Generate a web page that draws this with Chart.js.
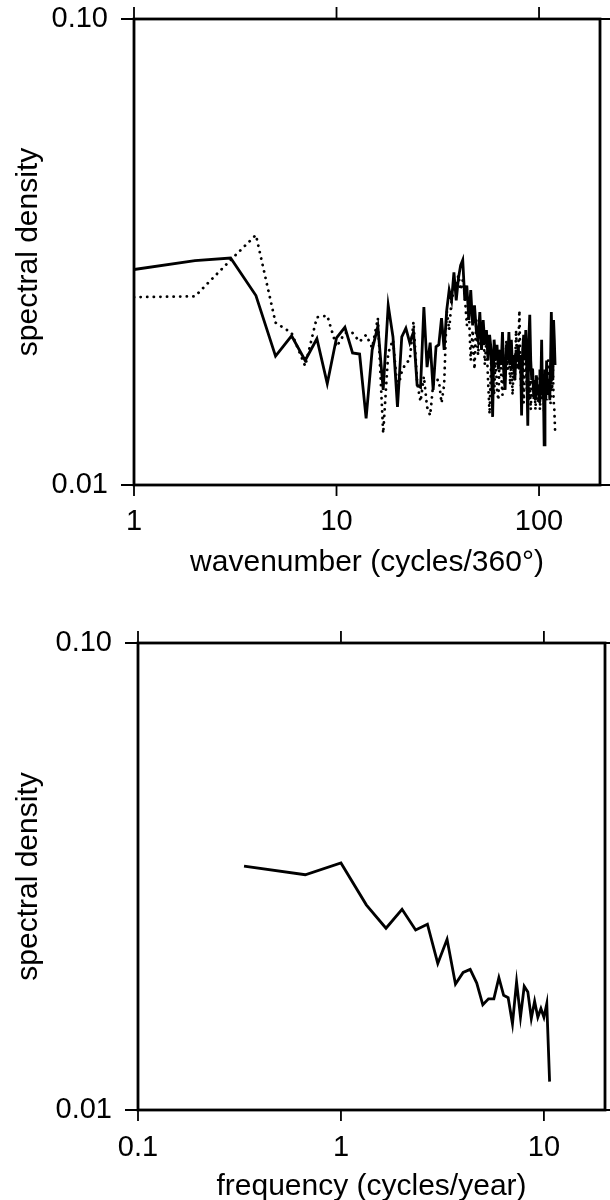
<!DOCTYPE html>
<html>
<head>
<meta charset="utf-8">
<script src="https://cdn.jsdelivr.net/npm/chart.js@4.4.0/dist/chart.umd.min.js"></script>
<style>
  html, body { margin: 0; padding: 0; background: #fff; overflow: hidden; }
  #wrap { position: relative; width: 610px; height: 1200px; overflow: hidden; }
  canvas { position: absolute; left: 0; }
  #topChart { top: 0; }
  #bottomChart { top: 600px; }
</style>
</head>
<body>
<div id="wrap">
  <canvas id="topChart" width="610" height="600"></canvas>
  <canvas id="bottomChart" width="610" height="620"></canvas>
</div>
<script>
// top panel: spectra against wavenumber
const wavenumbers = [
  1, 2, 3, 4, 5, 6, 7, 8, 9, 10, 11, 12, 13, 14, 15, 16, 17, 18, 19, 20,
  21, 22, 23, 24, 25, 26, 27, 28, 29, 30, 31, 32, 33, 34, 35, 36, 37, 38, 39, 40,
  41, 42, 43, 44, 45, 46, 47, 48, 49, 50, 51, 52, 53, 54, 55, 56, 57, 58, 59, 60,
  61, 62, 63, 64, 65, 66, 67, 68, 69, 70, 71, 72, 73, 74, 75, 76, 77, 78, 79, 80,
  81, 82, 83, 84, 85, 86, 87, 88, 89, 90, 91, 92, 93, 94, 95, 96, 97, 98, 99, 100,
  101, 102, 103, 104, 105, 106, 107, 108, 109, 110, 111, 112, 113, 114, 115, 116, 117, 118, 119, 120
];
const solidDensity = [
  0.0290, 0.0303, 0.0307, 0.0255, 0.0189, 0.0209, 0.0185, 0.0206, 0.0165, 0.0207,
  0.0218, 0.0192, 0.0191, 0.0139, 0.0195, 0.0219, 0.0160, 0.0243, 0.0208, 0.0147,
  0.0208, 0.0217, 0.0202, 0.0213, 0.0164, 0.0162, 0.0241, 0.0179, 0.0202, 0.0160,
  0.0198, 0.0200, 0.0228, 0.0195, 0.0237, 0.0262, 0.0249, 0.0286, 0.0249, 0.0278,
  0.0296, 0.0304, 0.0249, 0.0268, 0.0226, 0.0262, 0.0220, 0.0243, 0.0215, 0.0205,
  0.0235, 0.0195, 0.0226, 0.0200, 0.0215, 0.0185, 0.0210, 0.0195, 0.0140, 0.0205,
  0.0185, 0.0200, 0.0177, 0.0195, 0.0181, 0.0213, 0.0172, 0.0160, 0.0200, 0.0185,
  0.0213, 0.0181, 0.0205, 0.0177, 0.0190, 0.0168, 0.0195, 0.0185, 0.0200, 0.0177,
  0.0190, 0.0141, 0.0195, 0.0210, 0.0185, 0.0215, 0.0177, 0.0134, 0.0205, 0.0232,
  0.0185, 0.0168, 0.0177, 0.0156, 0.0168, 0.0152, 0.0172, 0.0156, 0.0164, 0.0152,
  0.0177, 0.0160, 0.0205, 0.0156, 0.0168, 0.0122, 0.0177, 0.0152, 0.0185, 0.0164,
  0.0156, 0.0168, 0.0152, 0.0185, 0.0235, 0.0195, 0.0168, 0.0226, 0.0205, 0.0181
];
const dottedDensity = [
  0.0253, 0.0254, 0.0304, 0.0344, 0.0223, 0.0212, 0.0180, 0.0229, 0.0231, 0.0198,
  0.0212, 0.0212, 0.0203, 0.0210, 0.0197, 0.0228, 0.0129, 0.0192, 0.0205, 0.0160,
  0.0175, 0.0183, 0.0185, 0.0224, 0.0166, 0.0151, 0.0171, 0.0147, 0.0141, 0.0164,
  0.0168, 0.0168, 0.0150, 0.0164, 0.0237, 0.0215, 0.0249, 0.0262, 0.0268, 0.0282,
  0.0262, 0.0275, 0.0255, 0.0220, 0.0237, 0.0185, 0.0215, 0.0177, 0.0226, 0.0190,
  0.0215, 0.0200, 0.0220, 0.0181, 0.0205, 0.0168, 0.0142, 0.0185, 0.0168, 0.0156,
  0.0190, 0.0160, 0.0152, 0.0195, 0.0172, 0.0156, 0.0185, 0.0168, 0.0205, 0.0177,
  0.0200, 0.0164, 0.0190, 0.0156, 0.0181, 0.0168, 0.0215, 0.0177, 0.0195, 0.0237,
  0.0172, 0.0156, 0.0185, 0.0150, 0.0177, 0.0195, 0.0160, 0.0172, 0.0152, 0.0168,
  0.0145, 0.0164, 0.0177, 0.0152, 0.0168, 0.0145, 0.0160, 0.0172, 0.0150, 0.0164,
  0.0145, 0.0160, 0.0181, 0.0152, 0.0168, 0.0142, 0.0160, 0.0177, 0.0152, 0.0164,
  0.0185, 0.0156, 0.0168, 0.0150, 0.0172, 0.0160, 0.0181, 0.0152, 0.0145, 0.0131
];

// bottom panel: spectrum against frequency
const frequencies = [
  0.333, 0.667, 1.000, 1.333, 1.667, 2.000, 2.333, 2.667, 3.000, 3.333, 3.667,
  4.000, 4.333, 4.667, 5.000, 5.333, 5.667, 6.000, 6.333, 6.667, 7.000, 7.333,
  7.667, 8.000, 8.333, 8.667, 9.000, 9.333, 9.667, 10.000, 10.333, 10.667
];
const frequencyDensity = [
  0.0333, 0.0319, 0.0338, 0.0275, 0.0245, 0.0269, 0.0243, 0.0250, 0.0206, 0.0232, 0.0186,
  0.0197, 0.0200, 0.0187, 0.0168, 0.0173, 0.0173, 0.0192, 0.0176, 0.0174, 0.0153, 0.0188,
  0.0158, 0.0184, 0.0179, 0.0157, 0.0171, 0.0158, 0.0165, 0.0158, 0.0169, 0.0115
];

const wavenumberTicks = [1, 10, 100];
const wavenumberTickLabels = ['1', '10', '100'];
const frequencyTicks = [0.1, 1, 10];
const frequencyTickLabels = ['0.1', '1', '10'];
const densityTicks = [0.01, 0.1];
const densityTickLabels = ['0.01', '0.10'];

const FONT = '"Liberation Sans", Arial, Helvetica, sans-serif';
const INK = '#000';

// box round the plot, ticks pointing outward on all four sides
const framePlugin = {
  id: 'frame',
  afterDraw(chart) {
    const { ctx, chartArea: a, scales: { x, y } } = chart;
    ctx.save();
    ctx.strokeStyle = INK;
    ctx.lineWidth = 2.8;
    ctx.strokeRect(a.left, a.top, a.right - a.left, a.bottom - a.top);
    ctx.lineWidth = 1.8;
    ctx.beginPath();
    x.ticks.forEach(t => {
      const px = x.getPixelForValue(t.value);
      ctx.moveTo(px, a.top); ctx.lineTo(px, a.top - 12);
      ctx.moveTo(px, a.bottom); ctx.lineTo(px, a.bottom + 11);
    });
    y.ticks.forEach(t => {
      const py = y.getPixelForValue(t.value);
      ctx.moveTo(a.left, py); ctx.lineTo(a.left - 13, py);
      ctx.moveTo(a.right, py); ctx.lineTo(a.right + 12, py);
    });
    ctx.stroke();
    ctx.restore();
  }
};

function toPoints(xs, ys) {
  return xs.map((v, i) => ({ x: v, y: ys[i] }));
}

function spectrumChart(id, datasets, o) {
  return new Chart(document.getElementById(id), {
    type: 'line',
    data: { datasets },
    options: {
      responsive: false,
      animation: false,
      events: [],
      layout: { padding: { top: o.padTop, right: o.padRight, left: 0, bottom: 0 } },
      plugins: { legend: { display: false }, tooltip: { enabled: false } },
      elements: { point: { radius: 0 }, line: { tension: 0, borderJoinStyle: 'miter' } },
      scales: {
        x: {
          type: 'logarithmic',
          min: o.xMin,
          max: o.xMax,
          afterBuildTicks: s => { s.ticks = o.xTicks.map(v => ({ value: v })); },
          afterFit: s => {
            s.height = o.xHeight;
            s.paddingLeft = 0;
            s.paddingRight = 0;
          },
          grid: { display: false, drawTicks: false },
          border: { display: false },
          ticks: {
            color: INK,
            font: { family: FONT, size: 29 },
            padding: o.xTickPad,
            maxRotation: 0,
            autoSkip: false,
            callback: (v, i) => o.xLabels[i]
          },
          title: {
            display: true,
            text: o.xTitle,
            color: INK,
            font: { family: FONT, size: 30 },
            padding: { top: 0, bottom: o.xTitlePad }
          }
        },
        y: {
          type: 'logarithmic',
          min: 0.01,
          max: 0.1,
          afterBuildTicks: s => { s.ticks = densityTicks.map(v => ({ value: v })); },
          afterFit: s => {
            s.width = o.yWidth;
            s.paddingTop = 0;
            s.paddingBottom = 0;
          },
          grid: { display: false, drawTicks: false },
          border: { display: false },
          ticks: {
            color: INK,
            font: { family: FONT, size: 29 },
            padding: 26,
            callback: (v, i) => densityTickLabels[i]
          },
          title: {
            display: true,
            text: 'spectral density',
            color: INK,
            font: { family: FONT, size: 30 },
            padding: { top: 11, bottom: 0 }
          }
        }
      }
    },
    plugins: [framePlugin]
  });
}

spectrumChart('topChart', [
  {
    data: toPoints(wavenumbers, solidDensity),
    borderColor: INK,
    borderWidth: 2.8
  },
  {
    data: toPoints(wavenumbers, dottedDensity),
    borderColor: INK,
    borderWidth: 2.8,
    borderDash: [0.1, 6.5],
    borderCapStyle: 'round'
  }
], {
  padTop: 19, padRight: 10,
  xMin: 1, xMax: 200,
  xTicks: wavenumberTicks, xLabels: wavenumberTickLabels,
  xHeight: 115, xTickPad: 20,
  xTitle: 'wavenumber (cycles/360°)', xTitlePad: 19,
  yWidth: 134
});

spectrumChart('bottomChart', [
  {
    data: toPoints(frequencies, frequencyDensity),
    borderColor: INK,
    borderWidth: 2.8
  }
], {
  padTop: 43, padRight: 5,
  xMin: 0.1, xMax: 20,
  xTicks: frequencyTicks, xLabels: frequencyTickLabels,
  xHeight: 110, xTickPad: 21,
  xTitle: 'frequency (cycles/year)', xTitlePad: 15,
  yWidth: 138
});
</script>
</body>
</html>
